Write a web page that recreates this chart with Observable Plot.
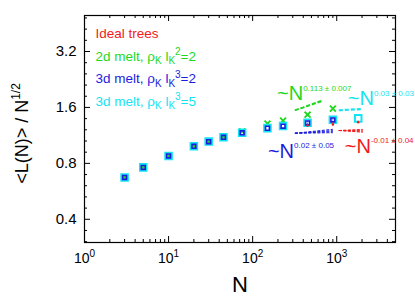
<!DOCTYPE html>
<html><head><meta charset="utf-8">
<script src="https://cdn.jsdelivr.net/npm/d3@7"></script>
<script src="https://cdn.jsdelivr.net/npm/@observablehq/plot@0.6"></script>
<style>body{margin:0;background:#fff;}</style>
</head><body><div id="chart"></div>
<script>
// ---- data ----
const N = [3, 5, 10, 20, 30, 45, 75, 150, 230, 450, 900, 1800];
const melt3dRho5 = [0.672, 0.761, 0.877, 0.989, 1.048, 1.106, 1.169, 1.238, 1.270, 1.324, 1.374, 1.397];
const melt3dRho2 = [0.672, 0.761, 0.877, 0.988, 1.047, 1.105, 1.168, 1.236, 1.268, 1.320, 1.370];
const melt3dRho2Err = [0, 0, 0, 0, 0, 0, 0, 0, 0, 0.03, 0.035];
const melt2d = [0.672, 0.761, 0.877, 0.989, 1.048, 1.106, 1.19, 1.308, 1.36, 1.462, 1.576];
const idealN = [450, 900, 1800];
const ideal = [1.28, 1.297, 1.33];
const idealErr = [0.02, 0.025, 0.02];

// fit lines (start N, end N, start value, end values)
const greenFitN = [318, 666], greenFitV = [1.543, [1.727, 1.745]];
const cyanFitN = [1059, 2040], cyanFitV = [1.545, [1.568]];
const blueFitN = [318, 899], blueFitV = [1.162, [1.22, 1.20, 1.185, 1.17]];
const redFitN = [1059, 2040], redFitV = [1.202, [1.218, 1.205, 1.19, 1.177]];

// fit annotations
const fitLabels = ["~N^{0.113 ± 0.007}", "~N^{0.03 ± 0.03}", "~N^{0.02 ± 0.05}", "~N^{-0.01 ± 0.04}"];
const fitLabelN = [195, 1355, 152, 1247];
const fitLabelV = [1.893, 1.779, 0.930, 0.990];

const legendLabels = ["Ideal trees", "2d melt, ρ_{K} l_{K}^{2}=2", "3d melt, ρ_{K} l_{K}^{3}=2", "3d melt, ρ_{K} l_{K}^{3}=5"];
const colors = {red: "#f21a1a", green: "#1ed81e", blue: "#1c1ce0", cyan: "#14e4f2"};
const legendColors = [colors.red, colors.green, colors.blue, colors.cyan];
const fitColors = [colors.green, colors.cyan, colors.blue, colors.red];

const xTicks = [1, 10, 100, 1000];
const yTicks = [0.4, 0.8, 1.6, 3.2];
const xDomain = [1, 5000], yDomain = [0.3, 5];

// ---- layout ----
const W = 415, H = 297, mL = 84, mR = 20, mT = 15, mB = 55;
const fw = W - mL - mR, fh = H - mT - mB;

const xMinor = [];
for (const d of xTicks) for (let k = 2; k <= 9; k++) if (d * k <= xDomain[1]) xMinor.push(d * k);
const yMinor = [];
for (let j = -2; j <= 20; j++) { const v = yTicks[0] * Math.pow(2, j / 5); if (j % 5 !== 0 && v >= yDomain[0] && v <= yDomain[1]) yMinor.push(v); }

function fitSegs(n, v) { return v[1].map(e => ({x1: n[0], x2: n[1], y1: v[0], y2: e})); }

const meltRows5 = N.map((n, i) => ({n, v: melt3dRho5[i]}));
const meltRows2 = melt3dRho2.map((v, i) => ({n: N[i], v, e: melt3dRho2Err[i]}));
const rows2d = melt2d.map((v, i) => ({n: N[i], v}));
const idealRows = idealN.map((n, i) => ({n, v: ideal[i], e: idealErr[i]}));

const marks = [
  Plot.frame({stroke: "black", strokeWidth: 1.2}),
  Plot.tickY(yTicks, {y: d => d, insetRight: fw - 6, stroke: "black"}),
  Plot.tickY(yTicks, {y: d => d, insetLeft: fw - 6, stroke: "black"}),
  Plot.tickY(yMinor, {y: d => d, insetRight: fw - 3, stroke: "black"}),
  Plot.tickY(yMinor, {y: d => d, insetLeft: fw - 3, stroke: "black"}),
  Plot.tickX(xTicks, {x: d => d, insetTop: fh - 6, stroke: "black"}),
  Plot.tickX(xTicks, {x: d => d, insetBottom: fh - 6, stroke: "black"}),
  Plot.tickX(xMinor, {x: d => d, insetTop: fh - 3, stroke: "black"}),
  Plot.tickX(xMinor, {x: d => d, insetBottom: fh - 3, stroke: "black"}),
  Plot.axisY({ticks: yTicks, tickSize: 0, tickPadding: 8, tickFormat: d => d.toFixed(1), fontSize: 15, label: null}),
  Plot.axisX({ticks: xTicks, tickSize: 0, tickPadding: 11, tickFormat: d => `10^{${Math.round(Math.log10(d))}}`, fontSize: 14, label: null}),
  // fit lines
  Plot.link(fitSegs(greenFitN, greenFitV), {x1: "x1", x2: "x2", y1: "y1", y2: "y2", stroke: colors.green, strokeWidth: 1.6, strokeDasharray: "4,2"}),
  Plot.link(fitSegs(cyanFitN, cyanFitV), {x1: "x1", x2: "x2", y1: "y1", y2: "y2", stroke: colors.cyan, strokeWidth: 2.2, strokeDasharray: "4,2"}),
  Plot.link(fitSegs(blueFitN, blueFitV), {x1: "x1", x2: "x2", y1: "y1", y2: "y2", stroke: colors.blue, strokeWidth: 1, strokeDasharray: "3,1.5"}),
  Plot.link(fitSegs(redFitN, redFitV), {x1: "x1", x2: "x2", y1: "y1", y2: "y2", stroke: colors.red, strokeWidth: 1, strokeDasharray: "3,1.5"}),
  // data
  Plot.dot(rows2d, {x: "n", y: "v", symbol: "times", r: 2.8, stroke: colors.green, strokeWidth: 1.8}),
  Plot.dot(meltRows5, {x: "n", y: "v", symbol: "square", r: 3.7, stroke: colors.cyan, strokeWidth: 2, fill: "none"}),
  Plot.ruleX(meltRows2.filter(d => d.e > 0), {x: "n", y1: d => d.v - d.e, y2: d => d.v + d.e, stroke: colors.blue, strokeWidth: 1, strokeDasharray: "1,1"}),
  Plot.dot(meltRows2, {x: "n", y: "v", symbol: "square", r: 2.2, stroke: colors.blue, strokeWidth: 1.6, fill: "none"}),
  Plot.ruleX(idealRows, {x: "n", y1: d => d.v - d.e, y2: d => d.v + d.e, stroke: colors.red, strokeWidth: 1.2}),
  Plot.dot(idealRows, {x: "n", y: "v", r: 1.2, fill: colors.red}),
  // fit labels
  Plot.text(fitLabels.map((t, i) => ({t, n: fitLabelN[i], v: fitLabelV[i], c: fitColors[i]})), {x: "n", y: "v", text: "t", fill: "c", textAnchor: "start", lineAnchor: "middle", fontSize: 20}),
  // legend
  ...legendLabels.map((t, i) => Plot.text([t], {text: d => d, frameAnchor: "top-left", dx: 11, dy: 18.5 + i * 22.4, textAnchor: "start", lineAnchor: "middle", fill: legendColors[i], fontSize: 13.5})),
  // axis labels
  Plot.text(["<L(N)> / N^{1/2}"], {text: d => d, frameAnchor: "left", dx: -62, dy: 4.5, rotate: -90, textAnchor: "middle", lineAnchor: "middle", fontSize: 18}),
  Plot.text(["N"], {text: d => d, frameAnchor: "bottom", dy: 42, textAnchor: "middle", lineAnchor: "middle", fontSize: 22})
];

const svg = Plot.plot({
  width: W, height: H,
  marginLeft: mL, marginRight: mR, marginTop: mT, marginBottom: mB,
  style: {fontFamily: "'Liberation Sans', Arial, sans-serif", background: "white", overflow: "visible"},
  x: {type: "log", domain: xDomain},
  y: {type: "log", base: 2, domain: yDomain},
  marks
});

// superscript / subscript markup -> tspans
function markup(textEl, supSize, supRaise, subSize, subDrop) {
  const s = textEl.textContent;
  const parts = [];
  const re = /([\^_])\{([^}]*)\}/g;
  let last = 0, m;
  while ((m = re.exec(s))) {
    if (m.index > last) parts.push({t: s.slice(last, m.index), k: 0});
    parts.push({t: m[2], k: m[1] === "^" ? 1 : -1});
    last = re.lastIndex;
  }
  if (last < s.length) parts.push({t: s.slice(last), k: 0});
  while (textEl.firstChild) textEl.removeChild(textEl.firstChild);
  let off = 0;
  for (const p of parts) {
    const target = p.k === 1 ? -supRaise : p.k === -1 ? subDrop : 0;
    const ts = document.createElementNS("http://www.w3.org/2000/svg", "tspan");
    if (target !== off) ts.setAttribute("dy", target - off);
    if (p.k === 1) ts.setAttribute("font-size", supSize);
    if (p.k === -1) ts.setAttribute("font-size", subSize);
    ts.textContent = p.t;
    textEl.appendChild(ts);
    off = target;
  }
}
svg.querySelectorAll("text").forEach(t => {
  const s = t.textContent;
  if (!/[\^_]\{/.test(s)) return;
  if (s.startsWith("10^")) markup(t, 10, 6, 10, 3);
  else if (s.startsWith("~N")) markup(t, 8, 9.5, 8, 3);
  else if (s.startsWith("<L")) markup(t, 12, 8, 12, 3);
  else markup(t, 10, 5.5, 10, 3.5);
});

document.getElementById("chart").appendChild(svg);
</script>
</body></html>
